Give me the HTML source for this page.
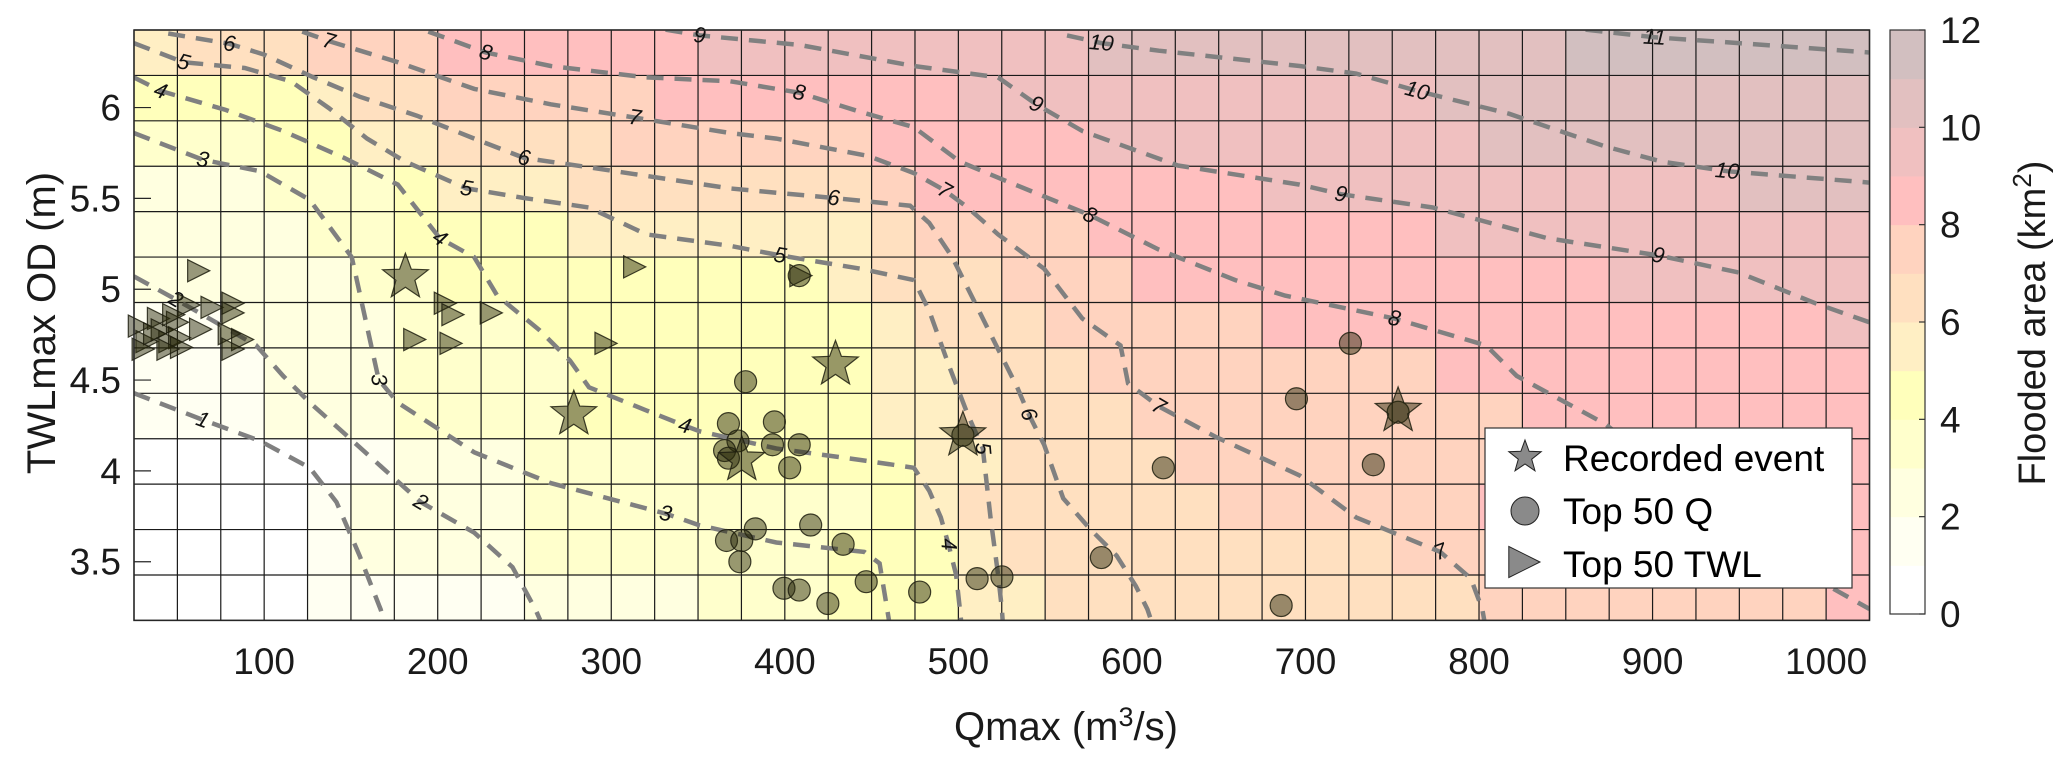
<!DOCTYPE html>
<html><head><meta charset="utf-8"><style>
html,body{margin:0;padding:0;background:#fff;}
svg{display:block;font-family:"Liberation Sans",Arial,sans-serif;}
</style></head><body>
<svg id="chart" xmlns="http://www.w3.org/2000/svg" width="2067" height="768" viewBox="0 0 2067 768">
<g id="cells"></g>
<g id="grid"></g>
<g id="contours"></g>
<g id="clabels"></g>
<g id="markers"></g>
<g id="axes"></g>
<g id="legend"></g>
<g id="cbar"></g>
</svg>
<script>
// ---- data ----
const xMin = 25, xMax = 1025, yMin = 3.177, yMax = 6.427;
const nCols = 40, nRows = 13;
const xTicks = [100,200,300,400,500,600,700,800,900,1000];
const yTicks = [3.5,4,4.5,5,5.5,6];
const yTickLabels = ["3.5","4","4.5","5","5.5","6"];
const cbarTicks = [0,2,4,6,8,10,12];
const bandColors = ["#ffffff","#fffff2","#ffffe0","#ffffcc","#ffffbb","#ffefc4","#ffe0c0","#ffd3bf","#ffbfbf","#f0c0c0","#e2c0c0","#d2bfc0"];
// band index per cell, rows top->bottom, 40 columns (a=10, b=11)
const cellBands = [
"5666777888888999999999aaaaaaaaaaabbbbbbb",
"444456677777888888899999999999aaaaaaaaaa",
"3334455666677777788888999999999aaaaaaaaa",
"2223334555666666678888888899999999999aaa",
"2222334444555555567777888888889999999999",
"2222233444444444566677788888888888999999",
"1122223334444444456667777788888888888889",
"1112223333444444455666777777778888888888",
"1112223333444444455666677777777788888888",
"0000012223333444445566667777777788888888",
"0000122223333333345666666777777888888888",
"0000122223333333444566666666677777777778",
"0000111112222333444556666666666777777778"
];
const contourLevels = [1,2,3,4,5,6,7,8,9,10,11];
const c1x=[24.9,64.6,97.6,126.3,141.7,155,167.1,169];
const c1y=[4.428,4.281,4.165,4.017,3.828,3.533,3.238,3.18];
const c2x=[24.9,49.1,95.4,110.9,126.3,146.1,168.2,190.2,221.1,243.1,256.3,259];
const c2y=[5.071,4.944,4.691,4.523,4.376,4.207,4.017,3.828,3.66,3.47,3.238,3.18];
const c3x=[24.9,64.6,97.6,126.3,150.5,166,177,221.1,265.1,331.3,351,395.1,445.8,454.6,459,460];
const c3y=[5.86,5.713,5.65,5.492,5.176,4.502,4.376,4.102,3.933,3.765,3.70,3.606,3.554,3.491,3.238,3.18];
const c4x=[24.9,40.3,77.8,110.9,146.1,177,201.2,221.1,234.3,258.5,276.2,287.2,320.2,342.3,351,395.1,443.6,474.4,483.2,489.9,494.3,498.7,500.9,501.5];
const c4y=[6.166,6.092,5.987,5.871,5.723,5.576,5.281,5.176,4.965,4.776,4.607,4.46,4.333,4.249,4.218,4.123,4.06,4.017,3.891,3.744,3.596,3.428,3.238,3.18];
const c5x=[24.9,53.6,88.8,115.3,137.3,159.3,181.4,216.6,249.7,287.2,320.2,368.3,397.3,443.6,474.4,483.2,494.3,505.3,514.1,518.5,522.9,525.1,525.5];
const c5y=[6.355,6.25,6.218,6.145,5.997,5.829,5.702,5.555,5.502,5.45,5.302,5.239,5.186,5.113,5.05,4.881,4.586,4.312,4.123,3.744,3.428,3.238,3.18];
const c6x=[44.7,80,99.8,128.5,155,188,221.1,249.7,287.2,368.3,428.1,472.2,483.2,496.5,509.7,522.9,533.9,540.5,549.4,560.4,575.8,591.2,602.3,608.9,611];
const c6y=[6.408,6.351,6.292,6.166,6.06,5.955,5.829,5.723,5.671,5.555,5.502,5.46,5.365,5.176,4.923,4.67,4.46,4.312,4.144,3.849,3.681,3.533,3.365,3.238,3.18];
const c7x=[121.9,137.3,177,221.1,265.1,313.6,368.3,395.1,448,474.4,492.1,505.3,522.9,549.4,571.4,593.4,597.8,615.5,648.5,696.6,729.2,777.7,795.3,801.9,803];
const c7y=[6.418,6.366,6.25,6.103,6.018,5.945,5.86,5.829,5.734,5.639,5.544,5.45,5.302,5.113,4.839,4.691,4.481,4.355,4.186,3.975,3.744,3.554,3.407,3.238,3.18];
const c8x=[194.6,227.7,265.1,320.2,368.3,408.3,443.6,474.4,500.9,527.3,575.8,615.5,659.6,688.2,751.2,804.1,821.7,872.4,927.5,993.7,1025];
const c8y=[6.418,6.303,6.229,6.166,6.145,6.082,5.976,5.892,5.702,5.597,5.408,5.218,5.05,4.965,4.839,4.691,4.523,4.26,3.849,3.407,3.24];
const c9x=[331.3,351,408.3,474.4,522.9,544.9,571.4,626.5,696.6,720.4,773.3,839.4,903.3,949.6,993.7,1025];
const c9y=[6.429,6.397,6.345,6.229,6.166,6.018,5.871,5.681,5.576,5.523,5.45,5.281,5.186,5.092,4.923,4.818];
const c10x=[562.6,582.4,615.5,696.6,729.2,764.4,817.3,872.4,905.5,943,1025];
const c10y=[6.397,6.355,6.313,6.229,6.187,6.092,5.966,5.787,5.702,5.65,5.587];
const c11x=[861.4,901.1,949.6,1025];
const c11y=[6.429,6.387,6.355,6.303];
const labelText=["1","2","2","3","3","3","4","4","4","4","5","5","5","5","6","6","6","6","7","7","7","7","7","8","8","8","8","9","9","9","9","10","10","10","11"];
const labelX=[64.6,49.1,190.2,64.6,166,331.3,40.3,201.2,342.3,494.3,53.6,216.6,397.3,514.1,80,249.7,428.1,540.5,137.3,313.6,492.1,615.5,777.7,227.7,408.3,575.8,751.2,351,544.9,720.4,903.3,582.4,764.4,943,901.1];
const labelY=[4.281,4.944,3.828,5.713,4.502,3.765,6.092,5.281,4.249,3.596,6.25,5.555,5.186,4.123,6.351,5.723,5.502,4.312,6.366,5.945,5.544,4.355,3.554,6.303,6.082,5.408,4.839,6.397,6.018,5.523,5.186,6.355,6.092,5.65,6.387];
const labelRot=[20,30,30,10,80,10,20,35,15,85,15,10,10,85,5,10,5,70,15,8,30,30,-20,15,10,25,10,5,25,10,10,5,15,5,3];
const twlQ=[61.3,55.8,69,81.1,81.1,62.4,78.9,86.6,81.1,27.1,31.5,38.1,40.3,44.7,49.1,50.3,35.9,46.9,51.4,43.6,29.3,203.4,207.8,229.9,185.8,206.7,296,312.5,408.3];
const twlH=[5.102,4.913,4.90,4.923,4.87,4.78,4.755,4.723,4.67,4.797,4.712,4.839,4.776,4.712,4.818,4.733,4.755,4.86,4.68,4.67,4.67,4.923,4.86,4.87,4.723,4.702,4.702,5.123,5.075];
const topQ=[377.4,367.5,394,373,365.3,367.5,392.9,408.3,402.8,502.6,408.3,383,366.4,375.2,374.1,414.9,433.6,399.5,408.3,424.8,446.9,477.7,510.8,525.1,582.4,618.1,686,694.8,725.9,753.4,739.1];
const topQH=[4.491,4.26,4.27,4.165,4.112,4.07,4.144,4.144,4.017,4.196,5.075,3.681,3.617,3.617,3.5,3.702,3.596,3.354,3.344,3.27,3.39,3.333,3.407,3.417,3.523,4.017,3.259,4.397,4.702,4.323,4.034];
const recQ=[181.4,278.4,429.2,375.2,502.6,753.4];
const recH=[5.066,4.312,4.586,4.06,4.196,4.33];

// ---- scales ----
const L=134, R=1869.5, T=30, B=620.4;
const X = v => L + (v - xMin) * (R - L) / (xMax - xMin);
const Y = v => T + (yMax - v) * (B - T) / (yMax - yMin);
const NS="http://www.w3.org/2000/svg";
function mk(tag, attrs, parent){const e=document.createElementNS(NS,tag);for(const k in attrs)e.setAttribute(k,attrs[k]);parent.appendChild(e);return e;}
const gCells=document.getElementById('cells'), gGrid=document.getElementById('grid'), gCont=document.getElementById('contours'), gLab=document.getElementById('clabels'), gMk=document.getElementById('markers'), gAx=document.getElementById('axes'), gLeg=document.getElementById('legend'), gCb=document.getElementById('cbar');
const dx=(xMax-xMin)/nCols, dy=(yMax-yMin)/nRows;
for(let r=0;r<nRows;r++){
  for(let c=0;c<nCols;c++){
    const ch=cellBands[r][c]||"0";
    const b=parseInt(ch,16);
    const x0=X(xMin+c*dx), x1=X(xMin+(c+1)*dx), y0=Y(yMax-r*dy), y1=Y(yMax-(r+1)*dy);
    const e=mk('rect',{x:x0,y:y0,width:x1-x0+0.5,height:y1-y0+0.5,fill:bandColors[b]},gCells);
    
    
  }
}
for(let c=0;c<=nCols;c++){const x=X(xMin+c*dx);const e=mk('line',{x1:x,x2:x,y1:T,y2:B,stroke:'#1a1a1a','stroke-width':1.2},gGrid);}
for(let r=0;r<=nRows;r++){const y=Y(yMax-r*dy);const e=mk('line',{x1:L,x2:R,y1:y,y2:y,stroke:'#1a1a1a','stroke-width':1.2},gGrid);}
const cxs=[c1x,c2x,c3x,c4x,c5x,c6x,c7x,c8x,c9x,c10x,c11x], cys=[c1y,c2y,c3y,c4y,c5y,c6y,c7y,c8y,c9y,c10y,c11y];
const clip=mk('clipPath',{id:'pclip'},document.getElementById('chart'));mk('rect',{x:L,y:T,width:R-L,height:B-T},clip);
gCont.setAttribute('clip-path','url(#pclip)');
for(let i=0;i<cxs.length;i++){
  const d=cxs[i].map((v,j)=>(j?'L':'M')+X(v).toFixed(1)+','+Y(cys[i][j]).toFixed(1)).join(' ');
  const e=mk('path',{d:d,fill:'none',stroke:'#808080','stroke-width':4.5,'stroke-dasharray':'17 11'},gCont);
  
  
}
for(let i=0;i<labelText.length;i++){
  const x=X(labelX[i]), y=Y(labelY[i]);
  const t=mk('text',{x:x,y:y+7,'font-size':22,'font-style':'italic','text-anchor':'middle',fill:'#111',transform:`rotate(${labelRot[i]} ${x} ${y})`},gLab);
  t.textContent=labelText[i];
  
  
}
const mfill='rgba(40,40,10,0.48)', mstroke='rgba(30,30,15,0.85)';
function starPath(cx,cy,R1,R2){let p='';for(let k=0;k<10;k++){const a=-Math.PI/2+k*Math.PI/5;const rr=k%2?R2:R1;p+=(k?'L':'M')+(cx+rr*Math.cos(a)).toFixed(1)+','+(cy+rr*Math.sin(a)).toFixed(1);}return p+'Z';}
function triPath(cx,cy,s){return `M${cx-s*0.55},${cy-s*0.65}L${cx+s*0.75},${cy}L${cx-s*0.55},${cy+s*0.65}Z`;}
for(let i=0;i<twlQ.length;i++){const e=mk('path',{d:triPath(X(twlQ[i]),Y(twlH[i]),17),fill:mfill,stroke:mstroke,'stroke-width':1.2},gMk);}
for(let i=0;i<topQ.length;i++){const e=mk('circle',{cx:X(topQ[i]),cy:Y(topQH[i]),r:11,fill:mfill,stroke:mstroke,'stroke-width':1.2},gMk);}
for(let i=0;i<recQ.length;i++){const e=mk('path',{d:starPath(X(recQ[i]),Y(recH[i]),24,10),fill:mfill,stroke:mstroke,'stroke-width':1.2},gMk);}
// axes
const fr=mk('rect',{x:L,y:T,width:R-L,height:B-T,fill:'none',stroke:'#262626','stroke-width':1.5},gAx);
xTicks.forEach(v=>{const x=X(v);const e=mk('text',{x:x,y:674,'font-size':37,'text-anchor':'middle',fill:'#1a1a1a'},gAx);e.textContent=String(v);});
yTicks.forEach((v,i)=>{const y=Y(v);mk('line',{x1:L,x2:L+17,y1:y,y2:y,stroke:'#262626','stroke-width':1.2},gAx);const e=mk('text',{x:121,y:y+13,'font-size':37,'text-anchor':'end',fill:'#1a1a1a'},gAx);e.textContent=yTickLabels[i];});
const xt=mk('text',{x:1066,y:740,'font-size':40,'text-anchor':'middle',fill:'#1a1a1a'},gAx);xt.innerHTML='Qmax (m<tspan dy="-14" font-size="27">3</tspan><tspan dy="14">/s)</tspan>';
const yt=mk('text',{x:0,y:0,'font-size':40,'text-anchor':'middle',fill:'#1a1a1a',transform:'translate(55,323) rotate(-90)'},gAx);yt.textContent='TWLmax OD (m)';
// legend
const lb=mk('rect',{x:1485,y:428,width:367,height:160,fill:'#fff',stroke:'#333','stroke-width':1.2},gLeg);
const lf='#8a8a8a', ls='#222';
mk('path',{d:starPath(1525,457,17,7),fill:lf,stroke:ls,'stroke-width':1},gLeg);
mk('circle',{cx:1525,cy:511,r:14,fill:lf,stroke:ls,'stroke-width':1},gLeg);
mk('path',{d:triPath(1522,562,24),fill:lf,stroke:ls,'stroke-width':1},gLeg);
[['Recorded event',471],['Top 50 Q',524],['Top 50 TWL',577]].forEach(a=>{const e=mk('text',{x:1563,y:a[1],'font-size':37,fill:'#000'},gLeg);e.textContent=a[0];});
// colorbar
const cT=30, cB=614, cL=1890, cR=1925;
const CY=v=>cB-(v/12)*(cB-cT);
for(let k=0;k<12;k++){const e=mk('rect',{x:cL,y:CY(k+1),width:cR-cL,height:CY(k)-CY(k+1)+0.5,fill:bandColors[k]},gCb);}
mk('rect',{x:cL,y:cT,width:cR-cL,height:cB-cT,fill:'none',stroke:'#333','stroke-width':1.2},gCb);
cbarTicks.forEach(v=>{const y=CY(v);mk('line',{x1:cR-6,x2:cR,y1:y,y2:y,stroke:'#333','stroke-width':1.2},gCb);const e=mk('text',{x:1940,y:y+13,'font-size':37,fill:'#1a1a1a'},gCb);e.textContent=String(v);});
const ct=mk('text',{x:0,y:0,'font-size':38,'text-anchor':'middle',fill:'#1a1a1a',transform:'translate(2045,323) rotate(-90)'},gCb);ct.innerHTML='Flooded area (km<tspan dy="-14" font-size="26">2</tspan><tspan dy="14">)</tspan>';
</script>
</body></html>
